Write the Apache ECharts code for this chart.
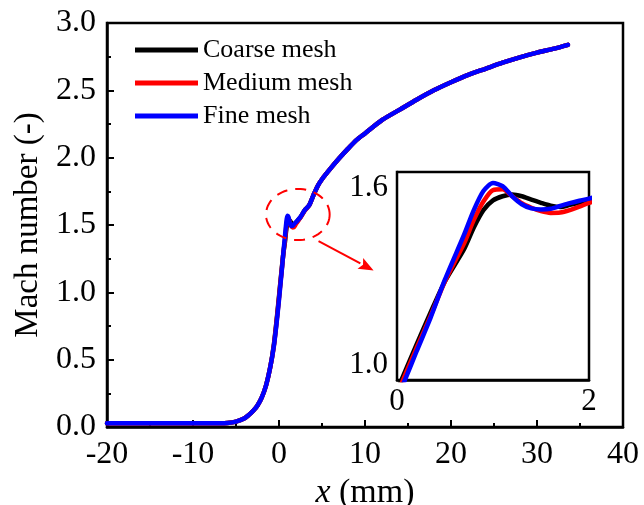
<!DOCTYPE html>
<html>
<head>
<meta charset="utf-8">
<script src="https://cdn.jsdelivr.net/npm/echarts@6/dist/echarts.min.js"></script>
<style>
  html, body { margin: 0; padding: 0; background: #ffffff; }
  #chart { width: 644px; height: 505px; }
</style>
</head>
<body>
<div id="chart"></div>
<script>
// Axial position along the nozzle (mm)
const xPos = [-20, -15, -10, -7, -6, -5, -4, -3.5, -3, -2.5, -2, -1.5, -1.0, -0.6, -0.3,
  0, 0.1, 0.2, 0.35, 0.5, 0.7, 0.8, 0.9, 1.0, 1.1, 1.2, 1.3, 1.4, 1.5, 1.6, 1.7, 1.8, 1.9, 2.0,
  2.5, 3.0, 3.5, 4.0, 4.5, 5.0, 6, 7, 8, 9, 10, 12, 14, 16, 18, 20, 22, 24, 26, 28, 30, 32, 33.6];

// Mach number for each mesh resolution
const machCoarse = [0.027, 0.027, 0.027, 0.028, 0.03, 0.04, 0.065, 0.09, 0.12, 0.16, 0.22, 0.31, 0.45, 0.61, 0.78,
  0.97, 1.035, 1.1, 1.195, 1.285, 1.378, 1.44, 1.49, 1.518, 1.53, 1.535, 1.53, 1.52, 1.511, 1.503, 1.499, 1.505, 1.512, 1.52,
  1.558, 1.61, 1.645, 1.72, 1.79, 1.84, 1.92, 1.995, 2.065, 2.13, 2.18, 2.28, 2.355, 2.43, 2.5, 2.56, 2.615, 2.66, 2.705, 2.745, 2.78, 2.81, 2.838];
const machMedium = [0.027, 0.027, 0.027, 0.028, 0.03, 0.04, 0.065, 0.09, 0.12, 0.16, 0.22, 0.31, 0.45, 0.6, 0.77,
  0.958, 1.025, 1.09, 1.185, 1.285, 1.395, 1.462, 1.515, 1.548, 1.55, 1.53, 1.51, 1.497, 1.487, 1.482, 1.483, 1.49, 1.5, 1.511,
  1.555, 1.608, 1.645, 1.72, 1.79, 1.84, 1.92, 1.995, 2.065, 2.13, 2.18, 2.28, 2.355, 2.43, 2.5, 2.56, 2.615, 2.66, 2.705, 2.745, 2.78, 2.81, 2.838];
const machFine = [0.027, 0.027, 0.027, 0.028, 0.03, 0.04, 0.065, 0.09, 0.12, 0.16, 0.22, 0.31, 0.45, 0.6, 0.76,
  0.945, 1.012, 1.08, 1.18, 1.29, 1.42, 1.49, 1.545, 1.568, 1.559, 1.53, 1.507, 1.495, 1.492, 1.494, 1.502, 1.51, 1.517, 1.523,
  1.56, 1.61, 1.645, 1.72, 1.79, 1.84, 1.92, 1.995, 2.065, 2.13, 2.18, 2.28, 2.355, 2.43, 2.5, 2.56, 2.615, 2.66, 2.705, 2.745, 2.78, 2.81, 2.838];

const seriesNames = ['Coarse mesh', 'Medium mesh', 'Fine mesh'];
const seriesColors = ['#000000', '#ff0000', '#0000ff'];
const seriesValues = [machCoarse, machMedium, machFine];

// Axis ranges and tick labels
const mainXRange = [-20, 40, 10];
const mainYRange = [0, 3, 0.5];
const insetXLabels = [0, 2];
const insetYLabels = [1.0, 1.6];

// Zoom marker around the shock peak and arrow to the detail panel (data units)
const markerCenter = [2.19, 1.578];
const markerRadius = [3.7, 0.19];
const arrowFrom = [4.6, 1.38];
const arrowTo = [11.0, 1.163];

const serif = 'Liberation Serif';

const chart = echarts.init(document.getElementById('chart'), null, { renderer: 'canvas' });

function pairs(values) {
  return xPos.map((x, i) => [x, values[i]]);
}

const series = [];
seriesValues.forEach((vals, i) => {
  const base = {
    name: seriesNames[i],
    type: 'line',
    data: pairs(vals),
    showSymbol: false,
    symbol: 'none',
    smooth: 0.25,
    lineStyle: { color: seriesColors[i], width: 4.5, cap: 'round', join: 'round' },
    itemStyle: { color: seriesColors[i] },
    animation: false,
    z: 2 + i
  };
  series.push(Object.assign({}, base, { xAxisIndex: 0, yAxisIndex: 0 }));
  series.push(Object.assign({}, base, { xAxisIndex: 1, yAxisIndex: 1, clip: true, z: 12 + i }));
});

const option = {
  backgroundColor: '#ffffff',
  animation: false,
  textStyle: { fontFamily: serif, color: '#000' },
  legend: {
    data: seriesNames,
    orient: 'vertical',
    left: 135,
    top: 37,
    padding: 0,
    icon: 'rect',
    itemWidth: 63,
    itemHeight: 5,
    itemGap: 7,
    textStyle: { fontFamily: serif, fontSize: 26, color: '#000', padding: [0, 0, 0, 0] }
  },
  grid: [
    { left: 107, top: 23, width: 516, height: 404, outerBoundsMode: 'none', containLabel: false,
      show: true, borderColor: '#000', borderWidth: 2.5, backgroundColor: 'transparent' },
    { left: 397, top: 172, width: 192, height: 208, outerBoundsMode: 'none', containLabel: false,
      show: true, borderColor: '#000', borderWidth: 2.5, backgroundColor: '#ffffff', z: 10 }
  ],
  xAxis: [
    {
      type: 'value', gridIndex: 0,
      min: mainXRange[0], max: mainXRange[1], interval: mainXRange[2],
      axisLine: { onZero: false, lineStyle: { color: '#000', width: 2.5 } },
      axisTick: { inside: true, length: 7, lineStyle: { color: '#000', width: 2 } },
      minorTick: { show: true, splitNumber: 2, length: 4, lineStyle: { color: '#000', width: 2 } },
      splitLine: { show: false },
      axisLabel: { fontFamily: serif, fontSize: 32, color: '#000', margin: 12 },
      name: '{i|x} (mm)',
      nameLocation: 'middle',
      nameGap: 32,
      nameTextStyle: {
        fontFamily: serif, fontSize: 34, color: '#000',
        rich: { i: { fontFamily: serif, fontSize: 34, fontStyle: 'italic', color: '#000' } }
      }
    },
    {
      type: 'value', gridIndex: 1,
      min: 0, max: 2, interval: 2,
      axisLine: { onZero: false, lineStyle: { color: '#000', width: 2.5 } },
      axisTick: { show: false },
      splitLine: { show: false },
      axisLabel: { fontFamily: serif, fontSize: 31, color: '#000', margin: 6, customValues: insetXLabels }
    }
  ],
  yAxis: [
    {
      type: 'value', gridIndex: 0,
      min: mainYRange[0], max: mainYRange[1], interval: mainYRange[2],
      axisLine: { onZero: false, lineStyle: { color: '#000', width: 2.5 } },
      axisTick: { inside: true, length: 7, lineStyle: { color: '#000', width: 2 } },
      minorTick: { show: true, splitNumber: 2, length: 4, lineStyle: { color: '#000', width: 2 } },
      splitLine: { show: false },
      axisLabel: { fontFamily: serif, fontSize: 32, color: '#000', margin: 11, formatter: v => v.toFixed(1) },
      name: 'Mach number (-)',
      nameLocation: 'middle',
      nameRotate: 90,
      nameGap: 62,
      nameTextStyle: { fontFamily: serif, fontSize: 33, color: '#000' }
    },
    {
      type: 'value', gridIndex: 1,
      min: 1.0, max: 1.6, interval: 0.2,
      axisLine: { onZero: false, lineStyle: { color: '#000', width: 2.5 } },
      axisTick: { show: false },
      splitLine: { show: false },
      axisLabel: {
        fontFamily: serif, fontSize: 31, color: '#000', margin: 9,
        customValues: insetYLabels,
        verticalAlignMinLabel: 'bottom',
        verticalAlignMaxLabel: 'top',
        formatter: v => v.toFixed(1)
      }
    }
  ],
  series: series
};

chart.setOption(option);

// Dashed ellipse and arrow, placed through the main grid's scales
const toPx = p => chart.convertToPixel({ gridIndex: 0 }, p);
const c = toPx(markerCenter);
const edgeX = toPx([markerCenter[0] + markerRadius[0], markerCenter[1]]);
const edgeY = toPx([markerCenter[0], markerCenter[1] + markerRadius[1]]);
const rx = Math.abs(edgeX[0] - c[0]);
const ry = Math.abs(edgeY[1] - c[1]);
const ellipsePts = [];
for (let k = 0; k <= 72; k++) {
  const t = (k / 72) * Math.PI * 2;
  ellipsePts.push([c[0] + rx * Math.cos(t), c[1] + ry * Math.sin(t)]);
}
const a0 = toPx(arrowFrom);
const a1 = toPx(arrowTo);
const dx = a1[0] - a0[0], dy = a1[1] - a0[1];
const len = Math.sqrt(dx * dx + dy * dy);
const ux = dx / len, uy = dy / len;
const headLen = 15, headHalf = 6;
const base = [a1[0] - ux * headLen, a1[1] - uy * headLen];

chart.setOption({
  graphic: [
    {
      type: 'polyline', z: 50, silent: true,
      shape: { points: ellipsePts },
      style: { stroke: '#ff0000', lineWidth: 2, fill: null, lineDash: [11, 8] }
    },
    {
      type: 'line', z: 50, silent: true,
      shape: { x1: a0[0], y1: a0[1], x2: base[0], y2: base[1] },
      style: { stroke: '#ff0000', lineWidth: 2 }
    },
    {
      type: 'polygon', z: 50, silent: true,
      shape: { points: [a1, [base[0] - uy * headHalf, base[1] + ux * headHalf], [base[0] + ux * 3, base[1] + uy * 3], [base[0] + uy * headHalf, base[1] - ux * headHalf]] },
      style: { fill: '#ff0000', stroke: null }
    }
  ]
});
</script>
</body>
</html>
